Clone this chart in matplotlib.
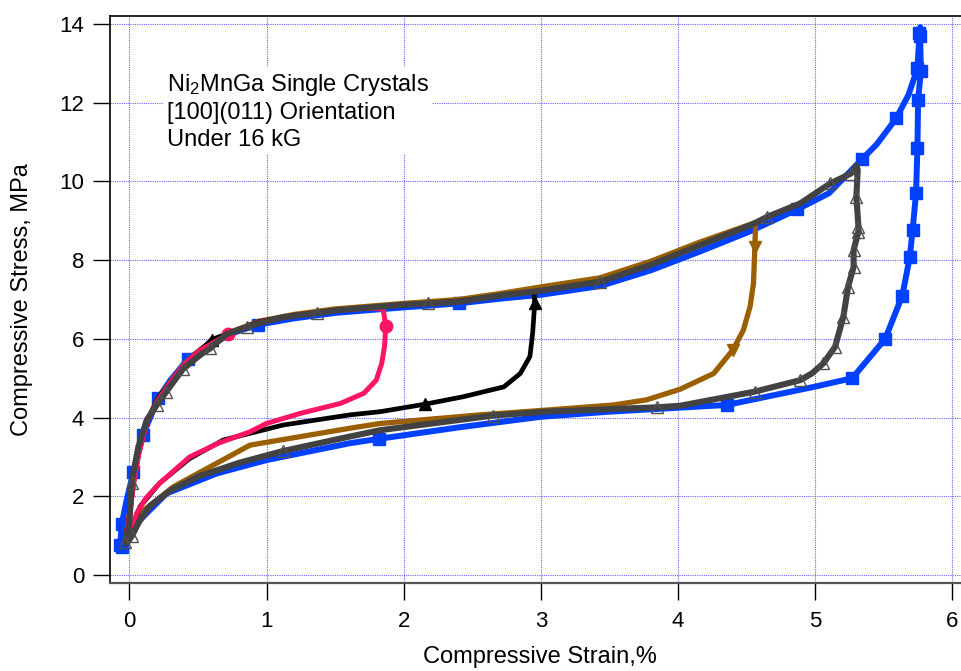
import matplotlib
matplotlib.use("Agg")
import matplotlib.pyplot as plt

plt.rcParams["font.family"] = ["Liberation Sans", "DejaVu Sans"]
plt.rcParams["mathtext.default"] = "regular"

# ---- stress-strain loops (strain in %, stress in MPa) ----
# 1.85 % loop
pink_strain = [-0.03, 0.0, 0.03, 0.07, 0.13, 0.21, 0.31, 0.40, 0.52, 0.72, 0.95, 1.20,
               1.50, 1.75, 1.85, 1.87, 1.86, 1.84, 1.80, 1.71, 1.54, 1.25, 1.00, 0.88,
               0.65, 0.44, 0.22, 0.12, 0.054, 0.02]
pink_stress = [0.90, 1.50, 2.30, 3.10, 3.90, 4.45, 4.95, 5.35, 5.72, 6.12, 6.42, 6.60,
               6.72, 6.78, 6.76, 6.33, 5.80, 5.38, 4.95, 4.62, 4.36, 4.11, 3.85, 3.64,
               3.35, 3.00, 2.33, 1.95, 1.57, 1.20]
pink_marks = [9, 15]

# 2.95 % loop
black_strain = [-0.03, 0.0, 0.03, 0.07, 0.13, 0.21, 0.31, 0.40, 0.52, 0.60, 0.72, 0.95,
                1.20, 1.50, 2.00, 2.40, 2.70, 2.95, 2.955, 2.94, 2.92, 2.85, 2.73, 2.435,
                2.155, 1.83, 1.61, 1.12, 0.685, 0.44, 0.22, 0.078, 0.04, 0.0]
black_stress = [0.90, 1.50, 2.35, 3.15, 3.90, 4.50, 4.95, 5.35, 5.72, 5.98, 6.14, 6.44,
                6.60, 6.72, 6.86, 6.96, 7.10, 7.20, 6.90, 6.14, 5.55, 5.12, 4.78, 4.53,
                4.34, 4.15, 4.07, 3.81, 3.43, 2.96, 2.33, 1.74, 1.40, 1.10]
black_marks = [9, 18, 24]

# 4.56 % loop
brown_strain = [-0.03, 0.0, 0.03, 0.07, 0.13, 0.21, 0.31, 0.40, 0.52, 0.72, 0.95, 1.20,
                1.50, 2.00, 2.40, 2.70, 3.00, 3.43, 3.80, 4.16, 4.56, 4.565, 4.56, 4.55,
                4.525, 4.476, 4.40, 4.26, 4.015, 3.77, 3.53, 3.04, 2.56, 1.83, 1.61,
                0.88, 0.32, 0.078, 0.0]
brown_stress = [0.90, 1.50, 2.35, 3.15, 3.92, 4.50, 4.95, 5.36, 5.74, 6.15, 6.45, 6.62,
                6.76, 6.90, 7.00, 7.15, 7.32, 7.55, 7.97, 8.46, 8.95, 8.90, 8.34, 7.41,
                6.82, 6.22, 5.72, 5.12, 4.72, 4.45, 4.32, 4.19, 4.07, 3.85, 3.73,
                3.30, 2.24, 1.57, 1.00]
brown_marks = [22, 26]

# 5.3 % loop
gray_strain = [-0.03, 0.0, 0.017, 0.03, 0.066, 0.127, 0.20, 0.27, 0.39, 0.52,
               0.59, 0.71, 0.856, 0.95, 1.12, 1.37, 1.49, 1.97, 2.18, 2.40,
               2.70, 2.99, 3.43, 3.80, 4.16, 4.53, 4.65, 4.89, 5.11, 5.26,
               5.30, 5.31, 5.30, 5.315, 5.315, 5.28, 5.28, 5.24, 5.205, 5.145,
               5.06, 4.975, 4.89, 4.56, 4.015, 3.845, 3.04, 2.65, 1.83, 1.61,
               1.12, 0.80, 0.50, 0.30, 0.15, 0.07, 0.02, -0.02]
gray_stress = [0.85, 1.30, 2.33, 2.60, 3.26, 3.94, 4.32, 4.66, 5.23, 5.60,
               5.76, 6.12, 6.30, 6.40, 6.55, 6.66, 6.72, 6.86, 6.90, 6.94,
               7.10, 7.22, 7.45, 7.88, 8.38, 8.89, 9.10, 9.44, 9.95, 10.20,
               10.40, 10.30, 9.61, 8.85, 8.72, 8.26, 7.83, 7.33, 6.56, 5.80,
               5.38, 5.12, 4.95, 4.66, 4.30, 4.26, 4.15, 4.05, 3.68, 3.52,
               3.15, 2.85, 2.50, 2.15, 1.75, 1.35, 1.00, 0.80]
gray_marks = [0, 2, 6, 7, 8, 10, 12, 15, 18, 22, 26, 28, 29, 32, 33, 34, 35, 36, 37,
              38, 39, 40, 42, 43, 45, 47, 50, 56]

# 5.76 % loop
blue_strain = [-0.067, -0.055, -0.02, 0.03, 0.10, 0.21, 0.30, 0.43, 0.60, 0.78, 0.94,
               1.20, 1.50, 2.00, 2.40, 2.70, 3.00, 3.43, 3.80, 4.16, 4.53, 4.87, 5.10,
               5.34, 5.45, 5.59, 5.68, 5.745, 5.76, 5.765, 5.765, 5.77, 5.75, 5.745,
               5.735, 5.71, 5.69, 5.635, 5.51, 5.27, 4.99, 4.355, 3.50, 3.00, 2.40,
               1.82, 1.61, 1.00, 0.637, 0.27, 0.078, -0.02, -0.05]
blue_stress = [0.76, 1.30, 1.90, 2.62, 3.56, 4.49, 4.95, 5.50, 5.88, 6.18, 6.36,
               6.52, 6.66, 6.80, 6.90, 7.02, 7.12, 7.34, 7.74, 8.22, 8.74, 9.29, 9.70,
               10.56, 10.95, 11.60, 12.20, 12.87, 13.76, 13.92, 13.70, 12.80, 12.07, 10.84,
               9.70, 8.77, 8.09, 7.10, 6.00, 5.00, 4.78, 4.32, 4.15, 4.02, 3.75,
               3.46, 3.35, 2.92, 2.58, 2.07, 1.40, 0.80, 0.72]
blue_marks = [0, 1, 3, 4, 5, 7, 10, 14, 21, 23, 25, 27, 28, 30, 31, 32, 33, 34, 35,
              36, 37, 38, 39, 41, 45, 52]

x_ticks = [0, 1, 2, 3, 4, 5, 6]
y_ticks = [0, 2, 4, 6, 8, 10, 12, 14]

fig = plt.figure(figsize=(9.62, 6.71), dpi=100)
ax = fig.add_axes([0.1147, 0.1307, 0.8853, 0.8459])

line_kw = dict(solid_joinstyle="round", solid_capstyle="round")

ax.plot(blue_strain, blue_stress, color="#0040FF", lw=4.3, marker="s", ms=8.6,
        markevery=blue_marks, zorder=3, **line_kw)
ax.plot(brown_strain, brown_stress, color="#9A6000", lw=3.8, marker="v", ms=9,
        markevery=brown_marks, zorder=4, **line_kw)
ax.plot(black_strain, black_stress, color="black", lw=3.4, marker="^", ms=9,
        markevery=black_marks, zorder=5, **line_kw)
ax.plot(pink_strain, pink_stress, color="#FF1466", lw=3.6, marker="o", ms=9,
        markevery=pink_marks, zorder=6, **line_kw)
ax.plot(gray_strain, gray_stress, color="#424242", lw=4.4, marker="^", ms=8.5,
        mfc="none", mec="#505050", mew=1.0, markevery=gray_marks, zorder=7, **line_kw)

ax.set_xlim(-0.1385, 6.07)
ax.set_ylim(-0.211, 14.211)
ax.set_xticks(x_ticks)
ax.set_yticks(y_ticks)
ax.set_xticklabels([str(v) for v in x_ticks])
ax.set_yticklabels([str(v) for v in y_ticks])

ax.grid(True, color="#6464FF", linestyle=(0, (1, 1)), linewidth=0.8, zorder=0)
ax.set_axisbelow(True)

ax.tick_params(axis="x", direction="out", length=12.2, width=1.0, pad=8,
               labelsize=16, colors="black")
ax.tick_params(axis="y", direction="out", length=12.2, width=1.0, pad=6.5,
               labelsize=16, colors="black")

ax.spines["right"].set_visible(False)
ax.spines["left"].set_linewidth(1.2)
ax.spines["top"].set_linewidth(1.2)
ax.spines["bottom"].set_linewidth(1.6)
ax.spines["bottom"].set_color("#555555")

ax.set_xlabel("Compressive Strain,%", fontsize=17)
ax.set_ylabel("Compressive Stress, MPa", fontsize=17)
ax.xaxis.set_label_coords(0.5045, -0.1298)
ax.xaxis.label.set_verticalalignment("center")
ax.yaxis.set_label_coords(-0.1037, 0.5)
ax.yaxis.label.set_verticalalignment("center")

ax.text(0.0662, 0.9007, "Ni$_2$MnGa Single Crystals\n[100](011) Orientation\nUnder 16 kG",
        transform=ax.transAxes, fontsize=17, va="top", ha="left", linespacing=1.26,
        bbox=dict(boxstyle="square,pad=0.15", fc="white", ec="none"), zorder=2)

fig.savefig("out.png", dpi=100)
